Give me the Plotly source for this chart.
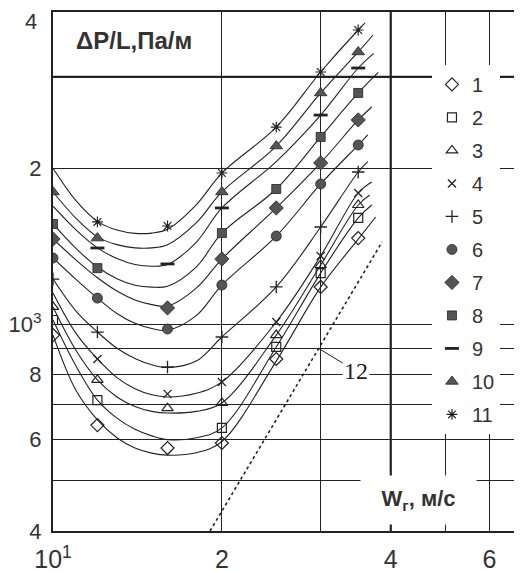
import math
import plotly.graph_objects as go

# ---- data ----
MARK_X = [10, 12, 16, 20, 25, 30, 35]          # gas velocity, m/s
S1 = [954, 640, 578, 591, 858, 1181, 1467]
S2 = [1020, 715, None, 632, 905, 1256, 1604]
S3 = [1081, 782, 690, 706, 954, 1302, 1699]
S4 = [None, 858, 735, 775, 1011, 1355, 1792]
S5 = [1223, 967, 828, 946, 1181, 1541, 1967]
S6 = [1343, 1124, 980, 1191, 1480, 1865, 2217]
S7 = [1461, None, 1076, 1337, 1677, 2048, 2478]
S8 = [1562, 1284, None, 1500, 1824, 2298, 2793]
S9 = [None, 1404, 1308, 1677, None, 2532, 3120]
S10 = [1800, 1467, None, 1800, 2207, 2793, 3350]
S11 = [None, 1576, 1548, 1958, 2401, 3065, 3693]

CURVE_X = [10, 11, 12, 13, 14, 15, 16, 18, 20, 25, 30, 35]
C1 = [954, 745, 655, 605, 578, 565, 560, 566, 595, 850, 1180, 1460]
C2 = [1020, 830, 715, 660, 628, 610, 600, 605, 632, 905, 1256, 1604]
C3 = [1081, 890, 782, 725, 695, 680, 675, 680, 706, 954, 1302, 1699]
C4 = [1150, 960, 858, 790, 752, 732, 725, 737, 775, 1011, 1355, 1792]
C5 = [1223, 1060, 967, 900, 860, 836, 826, 850, 946, 1181, 1541, 1967]
C6 = [1343, 1220, 1124, 1050, 1005, 982, 975, 1040, 1191, 1480, 1865, 2217]
C7 = [1461, 1330, 1230, 1160, 1115, 1092, 1085, 1175, 1337, 1677, 2048, 2478]
C8 = [1562, 1400, 1290, 1225, 1190, 1180, 1185, 1290, 1500, 1824, 2298, 2793]
C9 = [1690, 1520, 1405, 1340, 1305, 1295, 1305, 1440, 1677, 2060, 2532, 3120]
C10 = [1800, 1600, 1475, 1425, 1405, 1405, 1425, 1570, 1800, 2207, 2793, 3350]
C11 = [2000, 1730, 1580, 1520, 1498, 1500, 1525, 1700, 1958, 2401, 3065, 3693]
END_X = [37.6, 37.0, 36.7, 37.0, 36.4, 36.4, 37.0, 38.0, 37.3, 37.2, 36.0]
END_Y = [1611, 1699, 1776, 1882, 2060, 2318, 2624, 3060, 3330, 3612, 3810]

LINE12_X = [19.05, 38.6]
LINE12_Y = [400, 1442]
LABEL12_AT = (29.7, 900)      # point on line 12 where the leader of "12" ends

NAMES = ["1", "2", "3", "4", "5", "6", "7", "8", "9", "10", "11"]
X_TICKS = [10, 20, 40, 60]
X_TEXT = ["10<sup>1</sup>", "2", "4", "6"]
X_MINOR = [30, 50]
Y_TICKS = [400, 600, 800, 1000, 2000]
Y_TEXT = ["4", "6", "8", "10<sup>3</sup>", "2"]
Y_MINOR = [500, 700, 900, 3000, 4000]
Y_TOP = 4000
Y_TOP_TEXT = "4"              # label of the 4000 line, drawn a little lower

SERIES = [S1, S2, S3, S4, S5, S6, S7, S8, S9, S10, S11]
CURVES = [C1, C2, C3, C4, C5, C6, C7, C8, C9, C10, C11]

INK = "#222222"
FILL = "#555555"
STYLES = [
    dict(symbol="diamond-open", size=10, color=INK, line=dict(width=1.2, color=INK)),
    dict(symbol="square-open", size=9, color=INK, line=dict(width=1.2, color=INK)),
    dict(symbol="triangle-up-open", size=10, color=INK, line=dict(width=1.2, color=INK)),
    dict(symbol="x-thin", size=8, color=INK, line=dict(width=1.3, color=INK)),
    dict(symbol="cross-thin", size=9, color=INK, line=dict(width=1.3, color=INK)),
    dict(symbol="circle", size=10, color=FILL, line=dict(width=0.8, color=INK)),
    dict(symbol="diamond", size=11, color=FILL, line=dict(width=0.8, color=INK)),
    dict(symbol="square", size=9, color=FILL, line=dict(width=0.8, color=INK)),
    dict(symbol="line-ew", size=10, color=INK, line=dict(width=2.8, color=INK)),
    dict(symbol="triangle-up", size=11, color=FILL, line=dict(width=0.8, color=INK)),
    dict(symbol="asterisk", size=9, color=INK, line=dict(width=1.2, color=INK)),
]

fig = go.Figure()

for i, c in enumerate(CURVES):
    fig.add_trace(go.Scatter(
        x=CURVE_X + [END_X[i]], y=c + [END_Y[i]], mode="lines",
        line=dict(color=INK, width=1.1, shape="spline", smoothing=1.0),
        showlegend=False, hoverinfo="skip"))

fig.add_trace(go.Scatter(
    x=LINE12_X, y=LINE12_Y, mode="lines",
    line=dict(color=INK, width=1.6, dash="dot"),
    showlegend=False, hoverinfo="skip"))

for i, s in enumerate(SERIES):
    xs = [x for x, v in zip(MARK_X, s) if v is not None]
    ys = [v for v in s if v is not None]
    fig.add_trace(go.Scatter(
        x=xs, y=ys, mode="markers", name=NAMES[i],
        marker=STYLES[i], legendgroup=NAMES[i]))

# thicker grid lines of the original
fig.add_shape(type="line", xref="paper", x0=0, x1=1, yref="y", y0=3000, y1=3000,
              line=dict(color=INK, width=2.4), layer="between")
fig.add_shape(type="line", xref="x", x0=40, x1=40, yref="paper", y0=0, y1=1,
              line=dict(color=INK, width=2.2), layer="between")

fig.add_annotation(x=0.172, y=0.946, xref="paper", yref="paper",
                   xanchor="center", yanchor="middle",
                   text="<b>ΔP/L,Па/м</b>", showarrow=False,
                   font=dict(family="Liberation Sans, Arial", size=24, color="#333333"))

fig.add_annotation(x=0.780, y=0.060, xref="paper", yref="paper",
                   xanchor="center", yanchor="middle",
                   text="<b>W<sub>г</sub>, м/с</b>", showarrow=False,
                   width=113, height=46, bgcolor="white",
                   font=dict(family="Liberation Sans, Arial", size=22, color="#333333"))

# annotations on log axes take log10 coordinates
fig.add_annotation(x=math.log10(LABEL12_AT[0]), y=math.log10(LABEL12_AT[1]),
                   xref="x", yref="y", text="12",
                   showarrow=True, arrowhead=0, arrowwidth=1, arrowcolor=INK,
                   ax=38, ay=23, bgcolor="white",
                   font=dict(family="Liberation Serif, Times New Roman", size=24, color="#222222"))

axis_font = dict(family="Liberation Sans, Arial", size=22, color="#333333")
fig.add_annotation(x=0, y=math.log10(Y_TOP), xref="paper", yref="y",
                   xanchor="right", yanchor="middle", xshift=-14, yshift=-9,
                   text=Y_TOP_TEXT, showarrow=False, font=axis_font)

fig.update_xaxes(type="log", range=[1, 1.836], tickvals=X_TICKS, ticktext=X_TEXT,
                 showgrid=True, gridcolor=INK, gridwidth=1.3, automargin=False,
                 minor=dict(tickvals=X_MINOR, showgrid=True, gridcolor=INK,
                            gridwidth=1.3, ticks=""),
                 showline=True, linecolor=INK, linewidth=2.2, mirror=True,
                 ticks="", ticklabelstandoff=5, ticklabeloverflow="allow",
                 tickfont=dict(family="Liberation Sans, Arial", size=25, color="#333333"),
                 zeroline=False)
fig.update_yaxes(type="log", range=[2.60206, 3.60206], tickvals=Y_TICKS, ticktext=Y_TEXT,
                 showgrid=True, gridcolor=INK, gridwidth=1.3, automargin=False,
                 minor=dict(tickvals=Y_MINOR, showgrid=True, gridcolor=INK,
                            gridwidth=1.3, ticks=""),
                 showline=True, linecolor=INK, linewidth=2.2, mirror=False,
                 ticks="", ticklabelstandoff=5, ticklabeloverflow="allow",
                 tickfont=axis_font, zeroline=False)

# the page adds an 8px body margin, so the figure is sized to land the plot
# area where the original has it (left 53px, top 12px, bottom 531px)
fig.update_layout(
    width=514, height=564,
    margin=dict(l=45, r=0, t=4, b=41, autoexpand=False),
    paper_bgcolor="white", plot_bgcolor="white",
    showlegend=True,
    legend=dict(x=0.808, y=0.898, xanchor="left", yanchor="top",
                bgcolor="white", borderwidth=0, tracegroupgap=4,
                font=dict(family="Liberation Sans, Arial", size=20, color="#333333")),
)

fig.write_html("out.html")
